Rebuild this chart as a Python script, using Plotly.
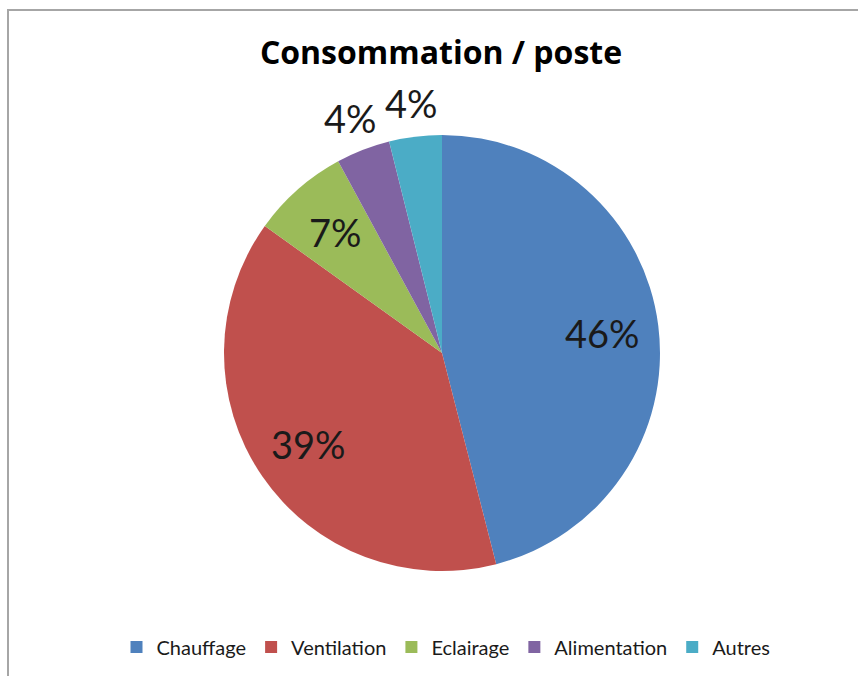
import math
import plotly.graph_objects as go

categories = ["Chauffage", "Ventilation", "Eclairage", "Alimentation", "Autres"]
values = [46.0, 38.9, 7.2, 4.0, 3.9]
colors = ["#4F81BD", "#C0504D", "#9BBB59", "#8064A2", "#4BACC6"]
label_outside = [False, False, False, True, True]
title_text = "Consommation / poste"

W, H = 858, 676
# plot area: full width, vertical extent = pie diameter
mt, mb = 135, 105
ph = H - mt - mb
cx_px, cy_px = 442, 353
R = ph / 2.0

fig = go.Figure(go.Pie(
    labels=categories,
    values=values,
    sort=False,
    direction="clockwise",
    rotation=0,
    marker=dict(colors=colors, line=dict(width=0)),
    textinfo="none",
    hoverinfo="label+percent",
    showlegend=True,
    domain=dict(x=[(cx_px - R) / W, (cx_px + R) / W], y=[0, 1]),
))

def px2paper_x(px):
    return px / W

def px2paper_y(py):
    return (H - mb - py) / ph

# percentage labels placed at each slice's mid-angle (derived from the data)
total = sum(values)
annotations = []
cum = 0.0
for v, outside in zip(values, label_outside):
    mid = (cum + v / 2.0) / total * 2 * math.pi
    cum += v
    rf = 1.155 if outside else 0.74
    lx = cx_px + rf * R * math.sin(mid)
    ly = cy_px - rf * R * math.cos(mid)
    annotations.append(dict(
        x=px2paper_x(lx), y=px2paper_y(ly), xref="paper", yref="paper",
        text="{:.0f}%".format(round(v / total * 100)), showarrow=False,
        xanchor="center", yanchor="middle",
        font=dict(family="Lato", size=38, color="#1a1a1a"),
    ))

fig.update_layout(
    width=W, height=H,
    margin=dict(l=0, r=0, t=mt, b=mb, pad=0),
    paper_bgcolor="white",
    plot_bgcolor="white",
    title=dict(text="<b>" + title_text + "</b>", x=441 / W, xref="container", xanchor="center",
               y=1 - 53 / H, yref="container", yanchor="middle",
               font=dict(family="Open Sans", size=32, color="black")),
    legend=dict(orientation="h", x=446 / W, xref="paper", xanchor="center",
                y=1 - 647 / H, yref="container", yanchor="middle",
                font=dict(family="Lato", size=20, color="#1a1a1a"),
                itemwidth=30, traceorder="normal"),
    annotations=annotations,
    shapes=[dict(type="rect", xref="paper", yref="paper",
                 x0=px2paper_x(8), x1=px2paper_x(W + 20),
                 y0=px2paper_y(H + 20), y1=px2paper_y(10),
                 line=dict(color="#a6a6a6", width=2), fillcolor="rgba(0,0,0,0)", layer="below")],
)

fig.write_html("out.html")
